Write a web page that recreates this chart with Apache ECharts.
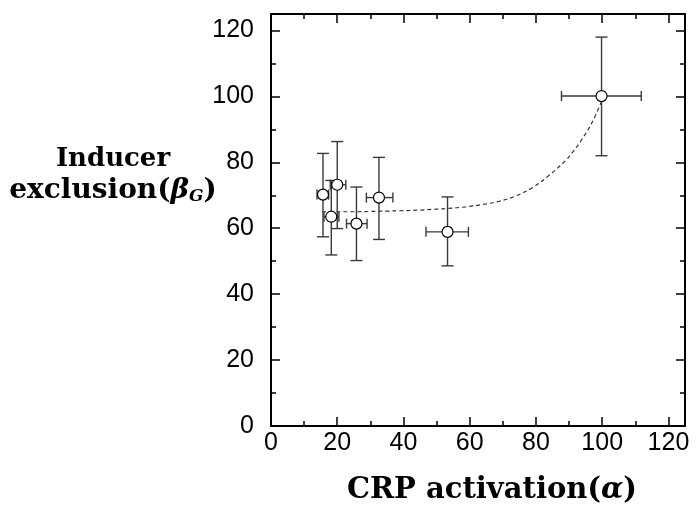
<!DOCTYPE html>
<html>
<head>
<meta charset="utf-8">
<script src="https://cdn.jsdelivr.net/npm/echarts@6/dist/echarts.min.js"></script>
<style>
  html, body { margin: 0; padding: 0; background: #fff; }
  #chart { width: 697px; height: 510px; }
</style>
</head>
<body>
<div id="chart"></div>
<script>
// measured points
const alphaVals = [15.7, 18.2, 20.0, 25.8, 32.6, 53.3, 99.8];
const betaVals  = [70.2, 63.5, 73.2, 61.4, 69.3, 58.9, 100.1];
// error bar ends
const alphaLow  = [13.9, 16.0, 17.9, 22.8, 28.8, 46.8, 87.7];
const alphaHigh = [17.4, 20.5, 22.6, 29.0, 36.8, 59.6, 111.8];
const betaLow   = [57.4, 51.9, 59.9, 50.2, 56.6, 48.6, 82.0];
const betaHigh  = [82.7, 74.5, 86.3, 72.5, 81.5, 69.5, 118.0];
// dashed fit curve
const fitX = [15.5, 20, 25, 30, 35, 38.8, 44.8, 50, 53.3, 58.9, 63.9, 68.9, 73.9, 78.9, 83.9, 88.9, 91.4, 93.9, 96.9, 99.8];
const fitY = [65.0, 65.0, 65.0, 65.1, 65.2, 65.3, 65.5, 65.8, 66.0, 66.5, 67.2, 68.2, 69.8, 72.3, 76.0, 80.5, 83.5, 87.0, 92.0, 98.5];
const xTicks = [0, 20, 40, 60, 80, 100, 120];
const yTicks = [0, 20, 40, 60, 80, 100, 120];

const chart = echarts.init(document.getElementById('chart'));

const points = alphaVals.map((a, i) => [a, betaVals[i]]);
const bars = alphaVals.map((a, i) => [a, betaVals[i], alphaLow[i], alphaHigh[i], betaLow[i], betaHigh[i]]);
const fitLine = fitX.map((x, i) => [x, fitY[i]]);

const labelFont = { color: '#000', fontSize: 25, fontFamily: 'Liberation Sans' };
const serifBold = { fontWeight: 'bold', fontFamily: 'DejaVu Serif', color: '#000' };

function axisBase(extra) {
  return Object.assign({
    type: 'value',
    min: 0,
    max: 125,
    interval: 20,
    minorTick: { show: true, splitNumber: 2, length: 5, lineStyle: { color: '#000', width: 1.5 } },
    axisTick: { show: true, inside: true, length: 9, lineStyle: { color: '#000', width: 1.5 } },
    axisLine: { show: true, onZero: false, lineStyle: { color: '#000', width: 2 } },
    splitLine: { show: false },
    minorSplitLine: { show: false }
  }, extra);
}

const option = {
  animation: false,
  backgroundColor: '#fff',
  grid: { left: 271, right: 12, top: 14, bottom: 81 },
  xAxis: [
    axisBase({
      position: 'bottom',
      axisLabel: Object.assign({ margin: 5, showMaxLabel: false,
        formatter: v => xTicks.includes(v) ? String(v) : '' }, labelFont),
      name: '{a|CRP activation(}{i|α}{a|)}',
      nameLocation: 'middle',
      nameGap: 50,
      nameTextStyle: {
        padding: [0, 0, 0, 28],
        rich: {
          a: Object.assign({ fontSize: 29 }, serifBold),
          i: Object.assign({ fontSize: 29, fontStyle: 'italic' }, serifBold)
        }
      }
    }),
    axisBase({ position: 'top', axisLabel: { show: false } })
  ],
  yAxis: [
    axisBase({
      position: 'left',
      axisLabel: Object.assign({ margin: 17, showMaxLabel: false,
        formatter: v => yTicks.includes(v) ? String(v) : '' }, labelFont)
    }),
    axisBase({ position: 'right', axisLabel: { show: false } })
  ],
  graphic: [{
    type: 'text',
    x: 113,
    y: 143,
    style: {
      text: '{b|Inducer}\n{a|exclusion(}{i|β}{s|G}{a|)}',
      align: 'center',
      rich: {
        b: { fontSize: 26, fontWeight: 'bold', fontFamily: 'DejaVu Serif', fill: '#000', lineHeight: 32 },
        a: { fontSize: 28, fontWeight: 'bold', fontFamily: 'DejaVu Serif', fill: '#000', lineHeight: 32 },
        i: { fontSize: 28, fontWeight: 'bold', fontStyle: 'italic', fontFamily: 'DejaVu Serif', fill: '#000', lineHeight: 32 },
        s: { fontSize: 17, fontWeight: 'bold', fontStyle: 'italic', fontFamily: 'DejaVu Serif', fill: '#000', padding: [12, 0, 0, 0] }
      }
    }
  }],
  series: [
    {
      type: 'line',
      data: fitLine,
      smooth: 0.4,
      showSymbol: false,
      lineStyle: { color: '#333', width: 1.2, type: [4, 3] },
      z: 1
    },
    {
      type: 'custom',
      data: bars,
      renderItem: function (params, api) {
        const c = api.coord([api.value(0), api.value(1)]);
        const l = api.coord([api.value(2), api.value(1)]);
        const r = api.coord([api.value(3), api.value(1)]);
        const lo = api.coord([api.value(0), api.value(4)]);
        const hi = api.coord([api.value(0), api.value(5)]);
        const capV = 6, capH = 5;
        const style = { stroke: '#3a3a3a', lineWidth: 1.4 };
        const seg = (x1, y1, x2, y2) => ({ type: 'line', shape: { x1, y1, x2, y2 }, style });
        return {
          type: 'group',
          children: [
            seg(l[0], c[1], r[0], c[1]),
            seg(l[0], c[1] - capH, l[0], c[1] + capH),
            seg(r[0], c[1] - capH, r[0], c[1] + capH),
            seg(c[0], lo[1], c[0], hi[1]),
            seg(c[0] - capV, lo[1], c[0] + capV, lo[1]),
            seg(c[0] - capV, hi[1], c[0] + capV, hi[1])
          ]
        };
      },
      z: 2
    },
    {
      type: 'scatter',
      data: points,
      symbol: 'circle',
      symbolSize: 11,
      itemStyle: { color: '#fff', borderColor: '#000', borderWidth: 1.2, opacity: 1 },
      z: 3
    }
  ]
};

chart.setOption(option);
</script>
</body>
</html>
